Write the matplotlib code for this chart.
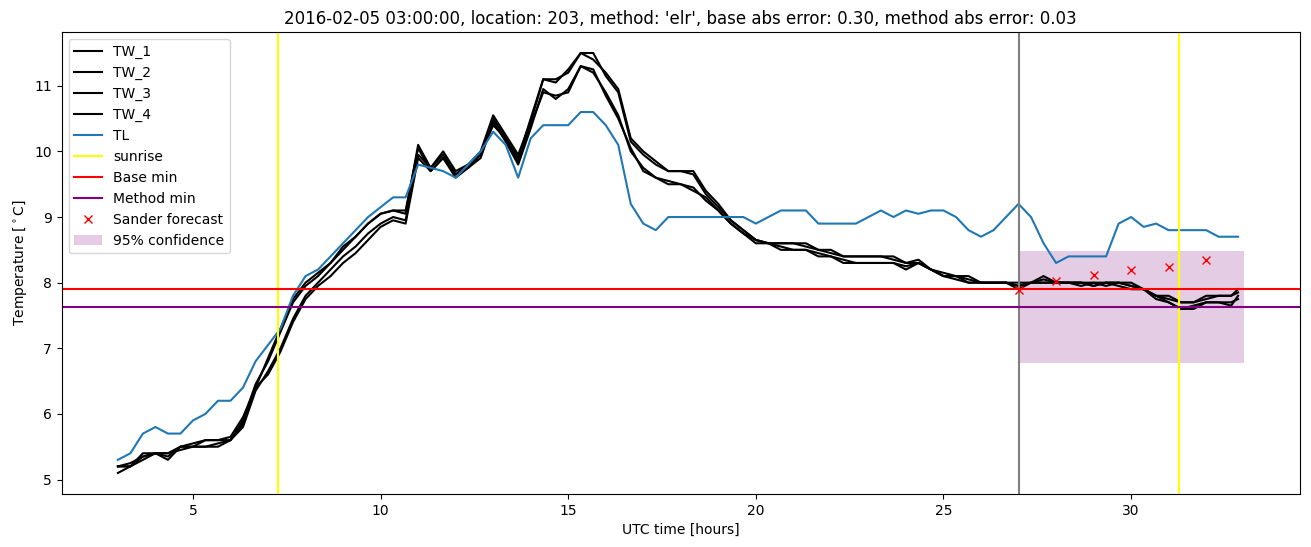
import numpy as np
import matplotlib
matplotlib.use("Agg")
import matplotlib.pyplot as plt

# 20-minute samples from 03:00 (hours since midnight of the forecast day)
hours = np.r_[np.arange(90) / 3 + 3, 32.85]

TW_1 = [5.2, 5.2, 5.4, 5.4, 5.4, 5.5, 5.5, 5.6, 5.6, 5.6, 5.9, 6.45, 6.8, 7.25, 7.7, 7.95,
        8.1, 8.3, 8.5, 8.7, 8.9, 9.05, 9.1, 9.1, 10.05, 9.7, 9.9, 9.65, 9.8, 9.95, 10.5,
        10.2, 9.9, 10.5, 11.1, 11.1, 11.2, 11.5, 11.5, 11.15, 10.9, 10.15, 9.95, 9.8, 9.7,
        9.7, 9.65, 9.35, 9.15, 8.95, 8.8, 8.65, 8.6, 8.6, 8.6, 8.55, 8.5, 8.5, 8.4, 8.4,
        8.4, 8.4, 8.4, 8.3, 8.3, 8.2, 8.15, 8.1, 8.1, 8.0, 8.0, 8.0, 8.0, 8.0, 8.1,
        8.0, 8.0, 8.0, 8.0, 7.95, 8.0, 8.0, 7.9, 7.8, 7.8, 7.7, 7.7, 7.8, 7.8, 7.8, 7.9]
TW_2 = [5.2, 5.25, 5.35, 5.4, 5.35, 5.5, 5.55, 5.6, 5.6, 5.65, 5.95, 6.4, 6.85, 7.3, 7.75, 8.0,
        8.15, 8.3, 8.55, 8.7, 8.9, 9.05, 9.1, 9.05, 10.1, 9.75, 10.0, 9.7, 9.8, 10.0, 10.55,
        10.25, 9.95, 10.45, 11.1, 11.05, 11.25, 11.5, 11.4, 11.2, 10.95, 10.2, 10.0, 9.85, 9.7,
        9.7, 9.7, 9.4, 9.2, 8.95, 8.8, 8.65, 8.6, 8.6, 8.6, 8.6, 8.5, 8.45, 8.4, 8.4,
        8.4, 8.4, 8.35, 8.3, 8.35, 8.2, 8.1, 8.1, 8.05, 8.0, 8.0, 8.0, 7.95, 8.0, 8.05,
        8.0, 8.0, 8.0, 7.95, 8.0, 8.0, 7.95, 7.9, 7.8, 7.75, 7.7, 7.7, 7.75, 7.8, 7.8, 7.85]
TW_3 = [5.2, 5.2, 5.35, 5.4, 5.3, 5.5, 5.5, 5.5, 5.5, 5.6, 5.85, 6.4, 6.6, 6.95, 7.4, 7.75,
        7.95, 8.1, 8.3, 8.45, 8.65, 8.85, 8.95, 8.9, 9.9, 9.7, 9.9, 9.6, 9.75, 9.95, 10.4,
        10.2, 9.85, 10.4, 10.9, 10.85, 10.9, 11.3, 11.2, 10.9, 10.55, 10.0, 9.75, 9.6, 9.5,
        9.5, 9.4, 9.3, 9.1, 8.9, 8.75, 8.65, 8.6, 8.55, 8.5, 8.5, 8.4, 8.4, 8.3, 8.3,
        8.3, 8.3, 8.3, 8.2, 8.3, 8.2, 8.1, 8.1, 8.0, 8.0, 8.0, 8.0, 7.95, 8.0, 8.0,
        8.0, 8.0, 8.0, 7.95, 8.0, 8.0, 7.95, 7.9, 7.8, 7.7, 7.6, 7.6, 7.7, 7.7, 7.65, 7.8]
TW_4 = [5.1, 5.2, 5.3, 5.4, 5.4, 5.45, 5.5, 5.5, 5.55, 5.6, 5.8, 6.35, 6.65, 7.0, 7.45, 7.8,
        8.0, 8.2, 8.4, 8.55, 8.75, 8.9, 9.0, 8.95, 9.95, 9.75, 9.95, 9.65, 9.75, 9.9, 10.45,
        10.15, 9.8, 10.35, 10.95, 10.8, 10.95, 11.3, 11.25, 10.85, 10.5, 10.05, 9.7, 9.6, 9.55,
        9.5, 9.45, 9.25, 9.1, 8.9, 8.75, 8.6, 8.6, 8.5, 8.5, 8.5, 8.45, 8.4, 8.35, 8.3,
        8.3, 8.3, 8.3, 8.25, 8.3, 8.2, 8.1, 8.05, 8.0, 8.0, 8.0, 8.0, 7.9, 8.0, 8.0,
        8.0, 8.0, 7.95, 8.0, 8.0, 7.95, 7.9, 7.9, 7.75, 7.7, 7.6, 7.65, 7.7, 7.7, 7.7, 7.75]
TL = [5.3, 5.4, 5.7, 5.8, 5.7, 5.7, 5.9, 6.0, 6.2, 6.2, 6.4, 6.8, 7.05, 7.3, 7.8, 8.1,
      8.2, 8.4, 8.6, 8.8, 9.0, 9.15, 9.3, 9.3, 9.8, 9.75, 9.7, 9.6, 9.8, 10.0, 10.3,
      10.1, 9.6, 10.2, 10.4, 10.4, 10.4, 10.6, 10.6, 10.4, 10.1, 9.2, 8.9, 8.8, 9.0,
      9.0, 9.0, 9.0, 9.0, 9.0, 9.0, 8.9, 9.0, 9.1, 9.1, 9.1, 8.9, 8.9, 8.9, 8.9,
      9.0, 9.1, 9.0, 9.1, 9.05, 9.1, 9.1, 9.0, 8.8, 8.7, 8.8, 9.0, 9.2, 9.0, 8.6,
      8.3, 8.4, 8.4, 8.4, 8.4, 8.9, 9.0, 8.85, 8.9, 8.8, 8.8, 8.8, 8.8, 8.7, 8.7, 8.7]

sunrise_hours = [7.26, 31.27]
forecast_start = 27.0
base_min = 7.90
method_min = 7.63
conf_halfwidth = 0.85
conf_end = 33.0

sander_hours = [27, 28, 29, 30, 31, 32]
sander_temp = [7.89, 8.03, 8.11, 8.19, 8.24, 8.34]

title = ("2016-02-05 03:00:00, location: 203, method: 'elr', "
         "base abs error: 0.30, method abs error: 0.03")

fig = plt.figure(figsize=(13.11, 5.47), dpi=100)
ax = fig.add_subplot(111)
fig.subplots_adjust(left=0.047, right=0.9916, top=0.9415, bottom=0.097)

for name, series in [("TW_1", TW_1), ("TW_2", TW_2), ("TW_3", TW_3), ("TW_4", TW_4)]:
    ax.plot(hours, series, color="black", label=name)
ax.plot(hours, TL, color="tab:blue", label="TL")

ax.axvline(sunrise_hours[0], color="yellow", label="sunrise")
ax.axvline(sunrise_hours[1], color="yellow")
ax.axvline(forecast_start, color="gray")
ax.axhline(base_min, color="red", label="Base min")
ax.axhline(method_min, color="purple", label="Method min")
ax.plot(sander_hours, sander_temp, "x", color="red", label="Sander forecast")
ax.fill_between([forecast_start, conf_end], method_min - conf_halfwidth,
                method_min + conf_halfwidth, color="purple", alpha=0.2,
                linewidth=0, label="95% confidence")

ax.set_title(title)
ax.set_xlabel("UTC time [hours]")
ax.set_ylabel(r"Temperature [$^\circ$C]")
ax.legend(loc="upper left")

fig.savefig("out.png", dpi=100)
